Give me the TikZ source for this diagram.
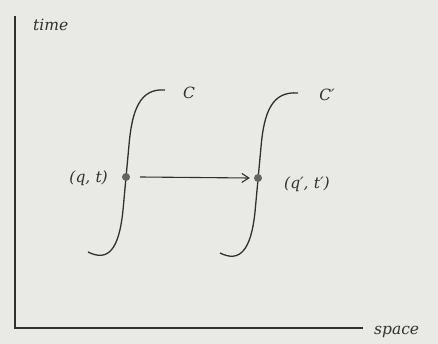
\documentclass[tikz,border=0pt]{standalone}
\usepackage{fontspec}
\setmainfont{DejaVu Serif}
\usetikzlibrary{arrows.meta}
\definecolor{paper}{HTML}{E9E9E5}
\definecolor{ink}{HTML}{303030}
\begin{document}
\begin{tikzpicture}[x=1pt,y=-1pt,
  axis/.style={draw=ink,line width=1.2pt},
  curve/.style={draw=ink,line width=1.3pt},
  dot/.style={circle,fill=ink!75,inner sep=0pt,minimum size=8pt},
  lbl/.style={font=\fontsize{15.5}{18}\selectfont\itshape,text=ink,inner sep=0pt}]
\fill[paper] (0,0) rectangle (438,344);
\useasboundingbox (0,0) rectangle (438,344);
% axes
\coordinate (o) at (15,328);
\coordinate (ytop) at (15,16);
\coordinate (xend) at (363,328);
\draw[axis] (ytop) -- (o) -- (xend);
\node[lbl,anchor=west] (time) at (33,25) {time};
\node[lbl,anchor=west] (space) at (374,332) {space};
% curve C
\draw[curve] (165,90) .. controls (140,88) and (132,110) .. (129,145)
  -- (123,210) .. controls (119,250) and (108,262) .. (88,252);
\node[dot] (p) at (126,177) {};
\node[lbl] (C) at (189,93) {C};
\node[lbl,anchor=east] (pl) at (108,178) {(q,\,\,t)};
% curve C'
\draw[curve] (298,93) .. controls (272,91) and (264,112) .. (261,147)
  -- (255,212) .. controls (251,250) and (240,263) .. (220,253);
\node[dot] (p2) at (258,178) {};
\node[lbl] (C2) at (327,95) {C′};
\node[lbl,anchor=west] (pl2) at (284,184) {(q′,\,\,t′)};
% arrow
\draw[ink,line width=1.1pt,-{Straight Barb[length=7pt,width=9pt]}] (p) ++(14,0) -- ([xshift=-4pt]p2.west);
\end{tikzpicture}
\end{document}
